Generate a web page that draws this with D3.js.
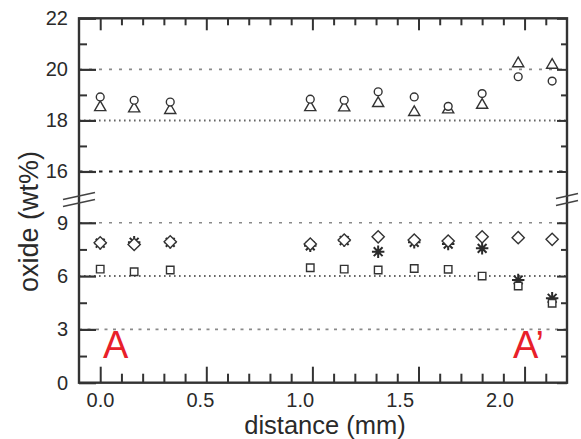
<!DOCTYPE html>
<html>
<head>
<meta charset="utf-8">
<script src="https://cdn.jsdelivr.net/npm/d3@7"></script>
<style>
  html, body { margin: 0; padding: 0; background: #fff; }
  svg { display: block; font-family: "Liberation Sans", Arial, Helvetica, sans-serif; }
</style>
</head>
<body>
<svg id="chart" width="581" height="439"></svg>
<script>
// Distance along the traverse (mm)
const distance = [0, 0.16, 0.33, 0.99, 1.15, 1.31, 1.48, 1.64, 1.80, 1.97, 2.13];

// Upper panel oxides (wt%)
const oxideCircle   = [18.92, 18.79, 18.72, 18.83, 18.79, 19.12, 18.92, 18.55, 19.05, 19.71, 19.54];
const oxideTriangle = [18.51, 18.46, 18.40, 18.51, 18.50, 18.67, 18.32, 18.42, 18.60, 20.23, 20.17];

// Lower panel oxides (wt%)
const oxideDiamond  = [7.87, 7.78, 7.93, 7.80, 8.03, 8.21, 8.03, 7.97, 8.21, 8.16, 8.07];
const oxideAsterisk = [7.85, 7.90, 7.90, 7.70, 8.00, 7.37, 7.90, 7.80, 7.56, 5.78, 4.75];
const oxideSquare   = [6.39, 6.24, 6.34, 6.47, 6.39, 6.34, 6.43, 6.38, 6.00, 5.44, 4.47];

// Tick values
const xMajorTicks = [0, 0.5, 1.0, 1.5, 2.0];
const xMinorTicks = [0.1, 0.2, 0.3, 0.4, 0.6, 0.7, 0.8, 0.9, 1.1, 1.2, 1.3, 1.4, 1.6, 1.7, 1.8, 1.9, 2.1];
const upperMajorTicks = [16, 18, 20, 22];
const upperMinorTicks = [17, 19, 21];
const lowerMajorTicks = [0, 3, 6, 9];
const lowerMinorTicks = [1.5, 4.5, 7.5];
const upperGrid = [20, 18, 16];
const lowerGrid = [9, 6, 3];

// Profile end labels
const profileLabels = ["A", "A\u2019"];

const svg = d3.select("#chart");
const ink = "#333";

// Scales: one x scale, y axis broken into an upper and a lower segment
const x = d3.scaleLinear().domain([-0.1, 2.2]).range([79, 567]);
// tick labels are laid out on their own, slightly tighter scale
const xLabel = d3.scaleLinear().domain([0, 2]).range([100, 499.5]);
const yUp = d3.scaleLinear().domain([15, 22]).range([197, 18.3]);
const yLo = d3.scaleLinear().domain([0, 10.45]).range([382.7, 197]);

const plotLeft = x.range()[0], plotRight = x.range()[1];
const plotTop = yUp.range()[1], plotBottom = yLo.range()[0];
const breakY = yUp.range()[0];

// Dotted grid lines
const gridStyle = {
  20: { dash: "3,7", color: "#8a8a8a", w: 1.6 },
  18: { dash: "1.6,3.4", color: "#666", w: 2 },
  16: { dash: "3.5,6.5", color: "#222", w: 2 },
  9:  { dash: "3,7", color: "#8a8a8a", w: 1.6 },
  6:  { dash: "1.6,3.4", color: "#666", w: 2 },
  3:  { dash: "3,5.5", color: "#8a8a8a", w: 1.6 }
};
const gridG = svg.append("g");
function gridLines(values, scale) {
  gridG.selectAll(null).data(values).enter().append("line")
    .attr("x1", plotLeft).attr("x2", plotRight)
    .attr("y1", d => scale(d)).attr("y2", d => scale(d))
    .attr("stroke", d => gridStyle[d].color)
    .attr("stroke-width", d => gridStyle[d].w)
    .attr("stroke-dasharray", d => gridStyle[d].dash);
}
gridLines(upperGrid, yUp);
gridLines(lowerGrid, yLo);

// Axis helper: strips the domain path and styles the ticks
function styleAxis(g, tickWidth) {
  g.select(".domain").remove();
  g.selectAll(".tick line").attr("stroke", ink).attr("stroke-width", tickWidth);
  g.selectAll(".tick text").attr("fill", "#2a2a2a").attr("font-size", 20)
    .attr("font-family", "'Liberation Sans', Arial, sans-serif");
}

// Bottom axis ticks
svg.append("g").attr("transform", `translate(0,${plotBottom})`)
  .call(d3.axisBottom(x).tickValues(xMajorTicks).tickSizeInner(-16).tickSizeOuter(0).tickFormat(""))
  .call(g => styleAxis(g, 2));
svg.append("g").attr("transform", `translate(0,${plotBottom})`)
  .call(d3.axisBottom(x).tickValues(xMinorTicks).tickSizeInner(-9).tickSizeOuter(0).tickFormat(""))
  .call(g => styleAxis(g, 2));
// Bottom tick labels
svg.append("g").attr("transform", `translate(0,${plotBottom})`)
  .call(d3.axisBottom(xLabel).tickValues(xMajorTicks).tickSize(0).tickPadding(10).tickFormat(d3.format(".1f")))
  .call(g => styleAxis(g, 0));

// Top axis ticks
svg.append("g").attr("transform", `translate(0,${plotTop})`)
  .call(d3.axisTop(x).tickValues(xMajorTicks).tickSizeInner(-12).tickSizeOuter(0).tickFormat(""))
  .call(g => styleAxis(g, 2));
svg.append("g").attr("transform", `translate(0,${plotTop})`)
  .call(d3.axisTop(x).tickValues(xMinorTicks).tickSizeInner(-7).tickSizeOuter(0).tickFormat(""))
  .call(g => styleAxis(g, 2));

// Left axis (labels + inward ticks) for both segments
function leftAxis(scale, majors, minors) {
  svg.append("g").attr("transform", `translate(${plotLeft},0)`)
    .call(d3.axisLeft(scale).tickValues(majors).tickSizeInner(-17).tickSizeOuter(0).tickPadding(11).tickFormat(d3.format("d")))
    .call(g => styleAxis(g, 2.2));
  svg.append("g").attr("transform", `translate(${plotLeft},0)`)
    .call(d3.axisLeft(scale).tickValues(minors).tickSizeInner(-8).tickSizeOuter(0).tickFormat(""))
    .call(g => styleAxis(g, 2));
}
leftAxis(yUp, upperMajorTicks, upperMinorTicks);
leftAxis(yLo, lowerMajorTicks, lowerMinorTicks);

// Right axis ticks
function rightAxis(scale, majors, minors) {
  svg.append("g").attr("transform", `translate(${plotRight},0)`)
    .call(d3.axisRight(scale).tickValues(majors).tickSizeInner(-10).tickSizeOuter(0).tickFormat(""))
    .call(g => styleAxis(g, 2));
  svg.append("g").attr("transform", `translate(${plotRight},0)`)
    .call(d3.axisRight(scale).tickValues(minors).tickSizeInner(-6).tickSizeOuter(0).tickFormat(""))
    .call(g => styleAxis(g, 2));
}
rightAxis(yUp, upperMajorTicks, upperMinorTicks);
rightAxis(yLo, lowerMajorTicks, lowerMinorTicks);

// Plot frame
svg.append("rect")
  .attr("x", plotLeft).attr("y", plotTop)
  .attr("width", plotRight - plotLeft).attr("height", plotBottom - plotTop)
  .attr("fill", "none").attr("stroke", ink).attr("stroke-width", 2.4);

// Axis break marks (double slashes on both vertical axes)
const breakG = svg.append("g").attr("stroke", "#444").attr("stroke-width", 1.6);
[[plotLeft, 16], [plotRight, 11]].forEach(([cx, half]) => {
  [-1, 6].forEach(off => {
    breakG.append("line")
      .attr("x1", cx - half).attr("y1", breakY + off + half * 0.22)
      .attr("x2", cx + half).attr("y2", breakY + off - half * 0.22);
  });
});

// Marker shapes
const asterisk8 = {
  draw(ctx, size) {
    const r = Math.sqrt(size) / 2;
    for (let i = 0; i < 4; i++) {
      const a = i * Math.PI / 4;
      const dx = r * Math.cos(a), dy = r * Math.sin(a);
      ctx.moveTo(-dx, -dy);
      ctx.lineTo(dx, dy);
    }
  }
};
const diamond45 = {
  draw(ctx, size) {
    const r = Math.sqrt(size) / 2;
    ctx.moveTo(0, -r); ctx.lineTo(r, 0); ctx.lineTo(0, r); ctx.lineTo(-r, 0); ctx.closePath();
  }
};

function plotSeries(values, scale, type, size, opts) {
  svg.append("g").selectAll("path").data(values).enter().append("path")
    .attr("transform", (d, i) => `translate(${x(distance[i])},${scale(d)})`)
    .attr("d", d3.symbol().type(type).size(size))
    .attr("fill", opts.fill)
    .attr("stroke", opts.stroke)
    .attr("stroke-width", opts.width);
}

const openMark = { fill: "#fff", stroke: "#333", width: 1.4 };
plotSeries(oxideTriangle, yUp, d3.symbolTriangle, 54, openMark);
plotSeries(oxideCircle, yUp, d3.symbolCircle, 48, openMark);
plotSeries(oxideAsterisk, yLo, asterisk8, 155, { fill: "none", stroke: "#2a2a2a", width: 2 });
plotSeries(oxideSquare, yLo, d3.symbolSquare, 56, openMark);
plotSeries(oxideDiamond, yLo, diamond45, 150, openMark);

// Axis titles
svg.append("text")
  .attr("x", (plotLeft + plotRight) / 2 + 2).attr("y", 434)
  .attr("text-anchor", "middle").attr("font-size", 25.5).attr("fill", "#2a2a2a")
  .text("distance (mm)");
svg.append("text")
  .attr("transform", `translate(38,${(plotTop + plotBottom) / 2 + 21}) rotate(-90)`)
  .attr("text-anchor", "middle").attr("font-size", 27).attr("fill", "#2a2a2a")
  .text("oxide (wt%)");

// Profile end labels
svg.append("text")
  .attr("x", x(0.013)).attr("y", yLo(1.39))
  .attr("font-size", 38).attr("fill", "#e8202a")
  .text(profileLabels[0]);
svg.append("text")
  .attr("x", x(1.945)).attr("y", yLo(1.39))
  .attr("font-size", 38).attr("fill", "#e8202a")
  .text(profileLabels[1]);
</script>
</body>
</html>
